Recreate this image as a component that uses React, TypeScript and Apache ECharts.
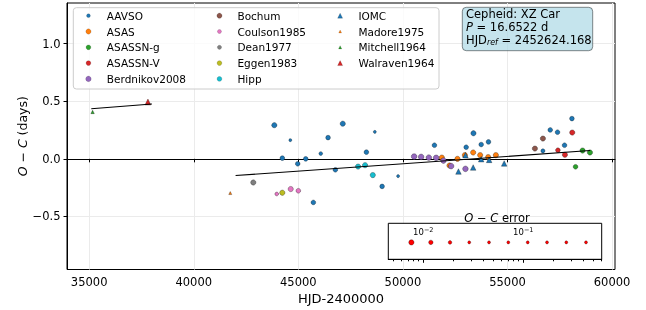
import React, { useEffect, useRef } from 'react';
import * as echarts from 'echarts';

// ---- data: [HJD-2400000, O-C (days), O-C error (days)] ----
const xTicks = [35000, 40000, 45000, 50000, 55000, 60000];
const yTicks = [-0.5, 0, 0.5, 1.0];

const aavso = [
  [43852, 0.292, 0.0078], [44617, 0.162, 0.03], [44234, 0.006, 0.0105], [44971, -0.043, 0.0105],
  [45354, 0.0, 0.0105], [46072, 0.046, 0.017], [46421, 0.184, 0.0105], [47124, 0.305, 0.0078],
  [48656, 0.234, 0.03], [48254, 0.058, 0.0105], [46770, -0.095, 0.0105], [49770, -0.15, 0.03],
  [49005, -0.239, 0.0105], [45718, -0.378, 0.0105], [51507, 0.118, 0.0105], [53024, 0.101, 0.0105],
  [53373, 0.222, 0.0078], [53742, 0.124, 0.0105], [54091, 0.147, 0.0105], [57043, 0.251, 0.0105],
  [57392, 0.231, 0.0105], [58081, 0.349, 0.0105], [57727, 0.118, 0.0105], [56694, 0.069, 0.014],
];
const asas = [
  [51861, 0.011, 0.0078], [52225, -0.058, 0.0078], [52608, 0.0, 0.0078], [52962, 0.032, 0.0078],
  [53359, 0.055, 0.0078], [53694, 0.032, 0.0078], [54077, 0.015, 0.0078], [54445, 0.032, 0.0078],
];
const asassnG = [[58589, 0.072, 0.0078], [58943, 0.055, 0.0078], [58254, -0.069, 0.0105]];
const asassnV = [[58096, 0.228, 0.0078], [57411, 0.075, 0.0105], [57746, 0.035, 0.0078]];
const berdnikov2008 = [
  [50536, 0.02, 0.0065], [50871, 0.017, 0.0065], [51239, 0.011, 0.0065], [51589, 0.009, 0.0065],
  [51938, -0.015, 0.0065], [52306, -0.063, 0.0065], [52990, -0.087, 0.0065],
];
const bochum = [[56694, 0.176, 0.0078], [56311, 0.089, 0.0078]];
const coulson1985 = [[43967, -0.305, 0.017], [44636, -0.262, 0.0078], [45000, -0.277, 0.0105]];
const dean1977 = [[42847, -0.205, 0.0078]];
const eggen1983 = [[44234, -0.294, 0.0078]];
const hipp = [[47856, -0.067, 0.0078], [48191, -0.055, 0.0078], [48560, -0.141, 0.0078]];
const iomc = [
  [52990, 0.032, 0.0068], [52656, -0.11, 0.0068], [53359, -0.075, 0.0068],
  [53742, -0.003, 0.0068], [54124, -0.009, 0.0068], [54842, -0.04, 0.0068],
];
const madore1975 = [[41746, -0.297, 0.03]];
const mitchell1964 = [[35163, 0.407, 0.02]];
const walraven1964 = [[37809, 0.493, 0.0058]];

const fitEarly = [[35100, 0.435], [38000, 0.476]];
const fitLate = [[42000, -0.145], [58950, 0.072]];

const errorKey = [0.0076, 0.0119, 0.0185, 0.0288, 0.0454, 0.0708, 0.1107, 0.1726, 0.2692, 0.4236];
const errMajorTicks = [0.01, 0.1];
const errMinorTicks = [0.005, 0.006, 0.007, 0.008, 0.009, 0.02, 0.03, 0.04, 0.05, 0.06, 0.07, 0.08, 0.09, 0.2, 0.3, 0.4, 0.5, 0.6];

// ---- styling ----
const FONT = 'DejaVu Sans';
const sizeOf = (e: number) => Math.max(3, Math.min(8, 3 - 4.5 * Math.log10(e / 0.025)));

const sources = [
  { name: 'AAVSO', data: aavso, color: '#1f77b4', symbol: 'circle', icon: 3.8 },
  { name: 'ASAS', data: asas, color: '#ff7f0e', symbol: 'circle', icon: 5.2 },
  { name: 'ASASSN-g', data: asassnG, color: '#2ca02c', symbol: 'circle', icon: 4.8 },
  { name: 'ASASSN-V', data: asassnV, color: '#d62728', symbol: 'circle', icon: 4.8 },
  { name: 'Berdnikov2008', data: berdnikov2008, color: '#9467bd', symbol: 'circle', icon: 5.5 },
  { name: 'Bochum', data: bochum, color: '#8c564b', symbol: 'circle', icon: 5.2 },
  { name: 'Coulson1985', data: coulson1985, color: '#e377c2', symbol: 'circle', icon: 4 },
  { name: 'Dean1977', data: dean1977, color: '#7f7f7f', symbol: 'circle', icon: 4.2 },
  { name: 'Eggen1983', data: eggen1983, color: '#bcbd22', symbol: 'circle', icon: 4.8 },
  { name: 'Hipp', data: hipp, color: '#17becf', symbol: 'circle', icon: 4.8 },
  { name: 'IOMC', data: iomc, color: '#1f77b4', symbol: 'triangle', icon: 5 },
  { name: 'Madore1975', data: madore1975, color: '#ff7f0e', symbol: 'triangle', icon: 2.8 },
  { name: 'Mitchell1964', data: mitchell1964, color: '#2ca02c', symbol: 'triangle', icon: 3.2 },
  { name: 'Walraven1964', data: walraven1964, color: '#d62728', symbol: 'triangle', icon: 5 },
];

const colX = [88.3, 219.3, 340];
const textX = [106.7, 237.3, 358.3];
const rowY = [15.7, 31.5, 47.3, 63.1, 78.9];

const EDGE = 'rgba(0,0,0,0.6)';

export default function App() {
  const ref = useRef<HTMLDivElement>(null);
  useEffect(() => {
    if (!ref.current) return;
    const chart = echarts.init(ref.current, undefined, { renderer: 'svg' });

    const legends = sources.map((s, i) => {
      const c = Math.floor(i / 5);
      const r = i % 5;
      const sz = s.icon;
      return {
        show: true,
        data: [{ name: s.name, itemStyle: { color: s.color, borderWidth: 0.3, borderColor: 'rgba(0,0,0,0.5)' } }],
        left: colX[c] - sz / 2,
        top: rowY[r] - 7,
        itemWidth: sz,
        itemHeight: sz,
        padding: 0,
        itemGap: 0,
        selectedMode: false,
        z: 10,
        itemStyle: { borderWidth: 0.3, borderColor: 'rgba(0,0,0,0.5)' },
        textStyle: {
          fontFamily: FONT, fontSize: 10.5, color: '#000', lineHeight: 14,
          padding: [0, 0, 0, textX[c] - colX[c] - sz / 2 - 5],
        },
      };
    });

    const mainSeries = sources.map((s) => ({
      type: 'scatter',
      name: s.name,
      xAxisIndex: 0,
      yAxisIndex: 0,
      symbol: s.symbol,
      symbolSize: (v: number[]) => sizeOf(v[2]),
      data: s.data,
      itemStyle: { color: s.color, borderColor: EDGE, borderWidth: 0.5, opacity: 1 },
    }));

    const lineSeries = [fitEarly, fitLate].map((d) => ({
      type: 'line',
      xAxisIndex: 0,
      yAxisIndex: 0,
      data: d,
      symbol: 'none',
      lineStyle: { color: '#000', width: 1.1 },
      z: 3,
    }));

    const log = Math.log10;
    const errMin = -2.35;
    const errMax = -0.216;

    const option = {
      animation: false,
      legend: legends,
      grid: [
        { left: 67, right: 31, top: 3, bottom: 39.5, show: true, borderColor: '#000', borderWidth: 1, backgroundColor: 'transparent' },
        { left: 388.3, top: 223.3, width: 213.4, height: 36, show: true, backgroundColor: '#fff', borderColor: '#000', borderWidth: 1, z: 3 },
        { left: 388.3, top: 223.3, width: 213.4, height: 36, show: false, z: 3 },
      ],
      xAxis: [
        {
          gridIndex: 0, type: 'value', min: 33940, max: 60140,
          axisLine: { show: true, lineStyle: { color: '#000', width: 1 } },
          axisTick: { show: true, inside: false, length: 3.5, customValues: xTicks, lineStyle: { color: '#000' } },
          axisLabel: { customValues: xTicks, fontFamily: FONT, fontSize: 11.5, color: '#000', margin: 6, formatter: (v: number) => String(v) },
          splitLine: { show: true, lineStyle: { color: '#ebebeb', width: 1 } },
          name: 'HJD-2400000', nameLocation: 'middle', nameGap: 22.5, nameMoveOverlap: false,
          nameTextStyle: { fontFamily: FONT, fontSize: 13, color: '#000' },
        },
        {
          gridIndex: 1, type: 'value', position: 'top', min: errMin, max: errMax, z: 4,
          axisLine: { show: true, lineStyle: { color: '#000' } },
          axisTick: { show: true, inside: true, length: 2, customValues: errMinorTicks.map(log), lineStyle: { color: '#000' } },
          axisLabel: { show: false },
          splitLine: { show: false },
        },
        {
          gridIndex: 2, type: 'value', position: 'top', min: errMin, max: errMax, z: 4,
          axisLine: { show: false },
          axisTick: { show: true, inside: true, length: 3.5, customValues: errMajorTicks.map(log), lineStyle: { color: '#000' } },
          axisLabel: {
            show: true, inside: true, margin: 3.5, customValues: errMajorTicks.map(log),
            fontFamily: FONT, fontSize: 8.5, color: '#000', lineHeight: 11,
            formatter: (v: number) => `10{s|${v < 0 ? '\u2212' : ''}${Math.abs(Math.round(v))}}`,
            rich: { s: { fontFamily: FONT, fontSize: 6.5, lineHeight: 7, verticalAlign: 'top', color: '#000' } },
          },
          splitLine: { show: false },
        },
      ],
      yAxis: [
        {
          gridIndex: 0, type: 'value', min: -0.96, max: 1.352,
          axisLine: { show: true, lineStyle: { color: '#000', width: 1 } },
          axisTick: { show: true, inside: false, length: 3.5, customValues: yTicks, lineStyle: { color: '#000' } },
          axisLabel: { customValues: yTicks, fontFamily: FONT, fontSize: 11.5, color: '#000', margin: 6.5, formatter: (v: number) => v.toFixed(1).replace('-', '\u2212') },
          splitLine: { show: true, lineStyle: { color: '#ebebeb', width: 1 } },
          name: '{i|O} \u2212 {i|C} (days)', nameLocation: 'middle', nameGap: 38, nameMoveOverlap: false,
          nameTextStyle: { fontFamily: FONT, fontSize: 12.5, color: '#000', rich: { i: { fontFamily: FONT, fontSize: 12.5, fontStyle: 'italic', color: '#000' } } },
        },
        { gridIndex: 1, type: 'value', min: 0, max: 1, show: false },
        { gridIndex: 2, type: 'value', min: 0, max: 1, show: false },
      ],
      graphic: [
        {
          type: 'rect', z: 5,
          shape: { x: 73.3, y: 7.7, width: 365.7, height: 81.3, r: 3 },
          style: { fill: 'rgba(255,255,255,0.8)', stroke: '#cccccc', lineWidth: 1 },
        },
        {
          type: 'rect', z: 5,
          shape: { x: 462.3, y: 7.3, width: 130.4, height: 43.4, r: 4 },
          style: { fill: 'rgba(173,216,230,0.7)', stroke: 'rgba(0,0,0,0.45)', lineWidth: 1 },
        },
        {
          type: 'text', z: 6, x: 466, y: 7.8,
          style: {
            text: 'Cepheid: XZ Car\n{i|P} = 16.6522 d\nHJD{sub|ref} = 2452624.168',
            fontFamily: FONT, fontSize: 11.5, lineHeight: 13, fill: '#000',
            rich: {
              i: { fontFamily: FONT, fontSize: 11.5, fontStyle: 'italic', lineHeight: 13 },
              sub: { fontFamily: FONT, fontSize: 8, fontStyle: 'italic', lineHeight: 8, verticalAlign: 'bottom' },
            },
          },
        },
        {
          type: 'text', z: 6, x: 497, y: 217.8,
          style: {
            text: '{i|O} \u2212 {i|C} error', align: 'center', verticalAlign: 'middle',
            fontFamily: FONT, fontSize: 11.5, fill: '#000',
            rich: { i: { fontFamily: FONT, fontSize: 11.5, fontStyle: 'italic' } },
          },
        },
      ],
      series: [
        ...lineSeries,
        ...mainSeries,
        {
          type: 'scatter',
          xAxisIndex: 1,
          yAxisIndex: 1,
          z: 5,
          data: errorKey.map((e) => [log(e), 0.47, e]),
          symbolSize: (v: number[]) => sizeOf(v[2]),
          itemStyle: { color: '#ff0000', borderColor: EDGE, borderWidth: 0.5, opacity: 1 },
        },
      ],
    };

    chart.setOption(option as any);
    return () => chart.dispose();
  }, []);

  return <div ref={ref} style={{ position: 'fixed', left: 0, top: 0, width: 646, height: 310 }} />;
}
